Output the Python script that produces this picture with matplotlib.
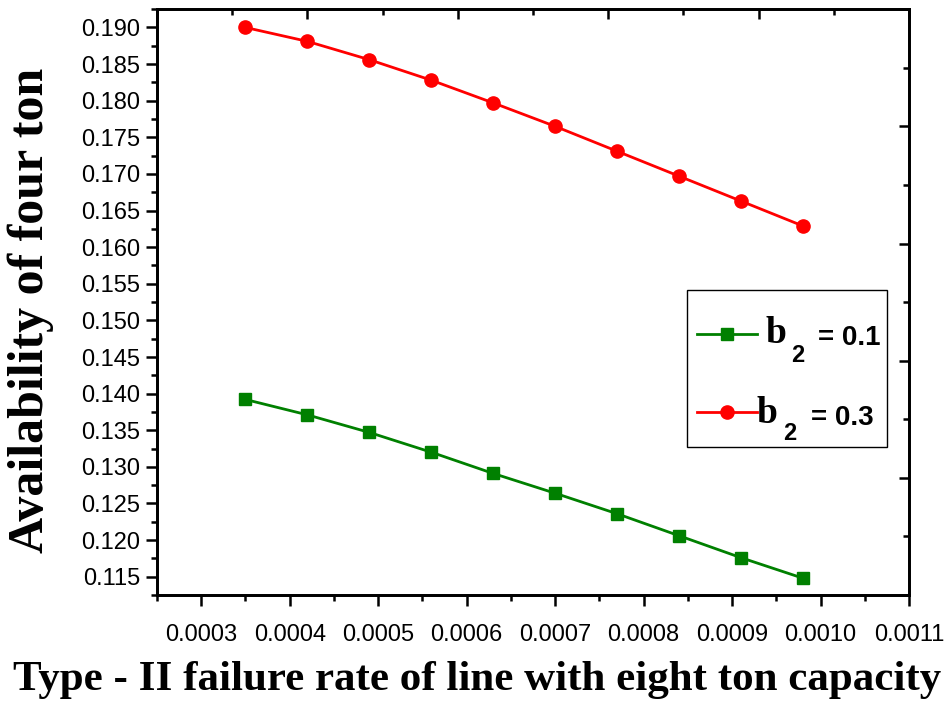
import matplotlib
matplotlib.use("Agg")
import matplotlib.pyplot as plt
from matplotlib.patches import Rectangle
from matplotlib.ticker import MultipleLocator, FormatStrFormatter, NullFormatter

# failure rate (x) and availability for the two b2 values
rate = [0.00035, 0.00042, 0.00049, 0.00056, 0.00063, 0.00070, 0.00077, 0.00084, 0.00091, 0.00098]
avail_b01 = [0.1392, 0.1371, 0.1347, 0.1320, 0.1291, 0.1264, 0.1236, 0.1206, 0.1176, 0.1148]
avail_b03 = [0.1900, 0.1881, 0.1856, 0.1828, 0.1797, 0.1765, 0.1731, 0.1697, 0.1663, 0.1629]
labels = ["0.1", "0.3"]

plt.rcParams["font.family"] = "Liberation Sans"

fig = plt.figure(figsize=(9.47, 7.05), dpi=100)
ax = fig.add_axes([0.1658, 0.156, 0.7941, 0.831])

l1, = ax.plot(rate, avail_b01, color="#008000", lw=2, marker="s", ms=8.5)
l2, = ax.plot(rate, avail_b03, color="#ff0000", lw=2, marker="o", ms=9.5)

ax.set_xlim(0.00025, 0.0011)
ax.set_ylim(0.1125, 0.1925)
ax.xaxis.set_major_locator(MultipleLocator(0.0001))
ax.xaxis.set_minor_locator(MultipleLocator(0.00005))
ax.yaxis.set_major_locator(MultipleLocator(0.005))
ax.yaxis.set_minor_locator(MultipleLocator(0.0025))
ax.xaxis.set_major_formatter(FormatStrFormatter("%.4f"))
ax.yaxis.set_major_formatter(FormatStrFormatter("%.3f"))
ax.tick_params(which="major", direction="out", length=8, width=1.8, labelsize=17, pad=4)
ax.tick_params(which="minor", direction="out", length=4.5, width=1.8)
ax.tick_params(axis="x", which="major", pad=13)
for s in ax.spines.values():
    s.set_linewidth(1.8)

# opposite axes carry their own unlabeled ticks pointing inward
axr = ax.twinx()
axr.set_ylim(0, 10)
axr.yaxis.set_major_locator(MultipleLocator(2))
axr.yaxis.set_minor_locator(MultipleLocator(1))
axr.yaxis.set_major_formatter(NullFormatter())
axr.tick_params(which="major", direction="in", length=7, width=1.8)
axr.tick_params(which="minor", direction="in", length=4.5, width=1.8)
axt = ax.twiny()
axt.set_xlim(0, 10)
axt.xaxis.set_major_locator(MultipleLocator(2))
axt.xaxis.set_minor_locator(MultipleLocator(1))
axt.xaxis.set_major_formatter(NullFormatter())
axt.tick_params(which="major", direction="in", length=7, width=1.8)
axt.tick_params(which="minor", direction="in", length=4.5, width=1.8)
for a in (axr, axt):
    for s in a.spines.values():
        s.set_linewidth(1.8)

ax.set_xlabel("Type - II failure rate of line with eight ton capacity",
              family="Liberation Serif", fontweight="bold", fontsize=31, va="center")
ax.xaxis.set_label_coords(0.4255, -0.145)
ax.set_ylabel("Availability of four ton",
              family="Liberation Serif", fontweight="bold", fontsize=36, va="center")
ax.yaxis.set_label_coords(-0.168, 0.486)

# legend: handles from matplotlib, frame and label text drawn separately
leg = ax.legend([l1, l2], [" ", " "], loc="center left", bbox_to_anchor=(0.718, 0.3745),
                fontsize=20, frameon=False, handlelength=2.16, handletextpad=0.1,
                labelspacing=1.9, borderpad=0, borderaxespad=0)
ax.add_patch(Rectangle((0.7044, 0.2531), 0.2664, 0.2674, transform=ax.transAxes,
                       fill=False, edgecolor="black", lw=1.0, zorder=4))
serif = dict(family="Liberation Serif", fontweight="bold", transform=ax.transAxes, va="baseline")
sans = dict(fontweight="bold", transform=ax.transAxes, va="baseline")
ax.text(0.8085, 0.4300, "b", fontsize=27, **serif)
ax.text(0.843, 0.3976, "2", fontsize=17, **sans)
ax.text(0.879, 0.4266, "= " + labels[0], fontsize=20, **sans)
ax.text(0.7975, 0.2930, "b", fontsize=27, **serif)
ax.text(0.832, 0.2645, "2", fontsize=17, **sans)
ax.text(0.870, 0.2901, "= " + labels[1], fontsize=20, **sans)

fig.savefig("out.png", dpi=100)
